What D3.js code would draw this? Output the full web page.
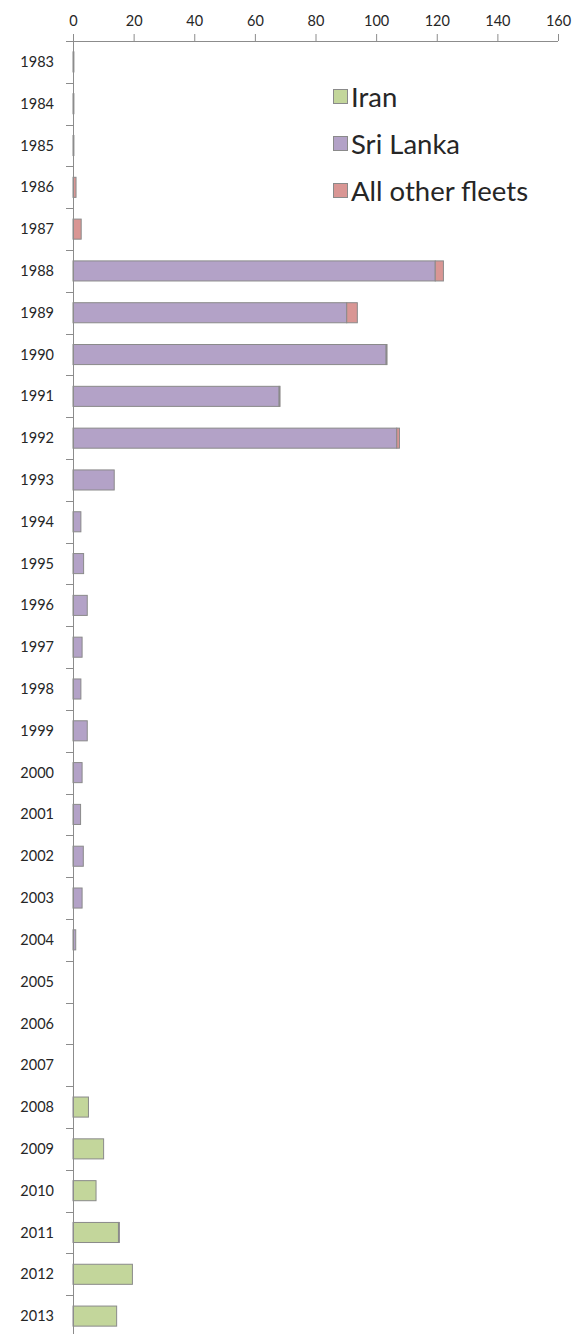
<!DOCTYPE html>
<html><head><meta charset="utf-8">
<script src="https://cdn.jsdelivr.net/npm/d3@7"></script>
<style>
html,body{margin:0;padding:0;background:#fff;}
svg{display:block;}
text{font-family:Lato, "Open Sans", sans-serif;fill:#262626;}
</style></head>
<body><svg id="c" width="584" height="1334"></svg>
<script>
const years = ["1983","1984","1985","1986","1987","1988","1989","1990","1991","1992","1993","1994","1995","1996","1997","1998","1999","2000","2001","2002","2003","2004","2005","2006","2007","2008","2009","2010","2011","2012","2013"];
const iran     = [0,0,0,0,0,0,0,0,0,0,0,0,0,0,0,0,0,0,0,0,0,0,0,0,0,5.1,10.1,7.6,15.0,19.6,14.4];
const sriLanka = [0.3,0.3,0.3,0,0,119.5,90.3,103.3,68.0,106.8,13.6,2.6,3.5,4.7,3.0,2.6,4.7,3.0,2.5,3.4,3.0,0.9,0,0,0,0,0,0,0.3,0,0];
const others   = [0,0,0,1.0,2.7,2.7,3.5,0.3,0.3,0.9,0,0,0,0,0,0,0,0,0,0,0,0,0,0,0,0,0,0,0,0,0];
const seriesNames = ["Iran","Sri Lanka","All other fleets"];
const seriesColors = ["#c3d69b","#b3a2c7","#d99694"];
const xTicks = [0,20,40,60,80,100,120,140,160];

const svg = d3.select("#c");
const x = d3.scaleLinear().domain([0,160]).range([73,558]);
const y = d3.scaleBand().domain(years).range([41,1337]).paddingInner(0.52).paddingOuter(0.26);

const rows = years.map((yr,i)=>({year:yr,"Iran":iran[i],"Sri Lanka":sriLanka[i],"All other fleets":others[i]}));
const stack = d3.stack().keys(seriesNames)(rows);
const color = d3.scaleOrdinal().domain(seriesNames).range(seriesColors);

const g = svg.append("g");
stack.forEach(layer=>{
  g.selectAll(null).data(layer.filter(d=>d[1]-d[0]>0)).enter().append("rect")
    .attr("x",d=>x(d[0]))
    .attr("y",d=>y(d.data.year))
    .attr("width",d=>Math.max(0,x(d[1])-x(d[0])))
    .attr("height",y.bandwidth())
    .attr("fill",color(layer.key))
    .attr("stroke","#8a8a8a")
    .attr("stroke-width",1);
});

// top axis
const axisColor="#8c8c8c";
const xAxis = svg.append("g").attr("transform","translate(0,41)")
  .call(d3.axisTop(x).tickValues(xTicks).tickSize(7).tickPadding(8));
xAxis.select(".domain").remove();
xAxis.selectAll(".tick line").attr("stroke",axisColor);
xAxis.selectAll(".tick text").style("font-size","14.5px").style("font-family","Lato").attr("fill","#262626");
svg.append("line").attr("x1",66).attr("x2",x(160)).attr("y1",41.5).attr("y2",41.5).attr("stroke",axisColor);

// left axis
const step = y.step();
svg.append("line").attr("x1",x(0)+0.5).attr("x2",x(0)+0.5).attr("y1",41).attr("y2",1334).attr("stroke",axisColor);
const bounds = years.map((yr)=>y(yr)-y.paddingInner()*step/2);
svg.selectAll(null).data(bounds).enter().append("line")
  .attr("x1",66).attr("x2",x(0)).attr("y1",d=>Math.round(d)+0.5).attr("y2",d=>Math.round(d)+0.5).attr("stroke",axisColor);
svg.selectAll(null).data(years).enter().append("text")
  .attr("x",54).attr("y",d=>y(d)+y.bandwidth()/2).attr("dy","0.35em")
  .attr("text-anchor","end").style("font-size","14.5px").text(d=>d);

// legend
const lg = svg.append("g");
seriesNames.forEach((n,i)=>{
  const yy = 97 + i*47;
  lg.append("rect").attr("x",333.5).attr("y",yy-7.5).attr("width",14).attr("height",14)
    .attr("fill",seriesColors[i]).attr("stroke","#8a8a8a");
  lg.append("text").attr("x",351).attr("y",yy).attr("dy","0.36em").style("font-size","27.5px").text(n);
});
</script></body></html>
